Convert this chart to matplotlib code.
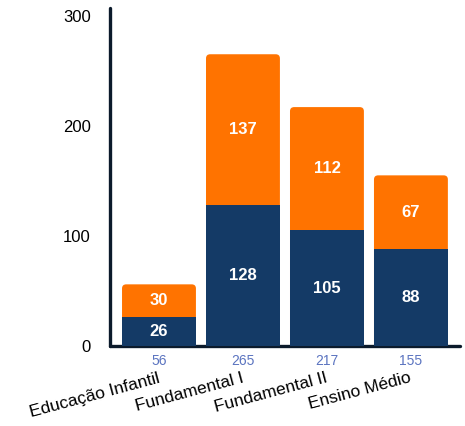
import matplotlib

matplotlib.use("Agg")
import matplotlib.pyplot as plt
import numpy as np
from matplotlib.patches import FancyBboxPatch

plt.rcParams["font.family"] = ["Liberation Sans", "DejaVu Sans"]

categories = ["Educação Infantil", "Fundamental I", "Fundamental II", "Ensino Médio"]
lower = [26, 128, 105, 88]
upper = [30, 137, 112, 67]
totals = [56, 265, 217, 155]
yticks = [0, 100, 200, 300]

navy = "#143a66"
orange = "#ff7300"
spine_color = "#0b1a2b"

fig = plt.figure(figsize=(4.65, 4.26), dpi=100)
ax = fig.add_axes([0.2366, 0.1878, 0.7524, 0.7934])

x = np.arange(len(categories))
width = 0.88
lower = np.array(lower)
upper = np.array(upper)

# orange full-height box with rounded top, navy drawn over its lower part
for xi, lo, up in zip(x, lower, upper):
    box = FancyBboxPatch(
        (xi - width / 2, 0), width, lo + up,
        boxstyle="round,pad=0,rounding_size=0.05",
        mutation_aspect=75, facecolor=orange, edgecolor="none", zorder=2,
    )
    ax.add_patch(box)
ax.bar(x, lower, width=width, color=navy, zorder=3)

for xi, lo, up in zip(x, lower, upper):
    ax.text(xi, lo / 2, str(lo), ha="center", va="center", color="white",
            fontsize=12, fontweight="bold", zorder=4)
    ax.text(xi, lo + up / 2, str(up), ha="center", va="center", color="white",
            fontsize=12, fontweight="bold", zorder=4)

# totals under the axis
for xi, t in zip(x, totals):
    ax.annotate(str(t), xy=(xi, 0), xycoords=("data", "axes fraction"),
                xytext=(0, -11), textcoords="offset points",
                ha="center", va="center", color="#5b74c0", fontsize=10,
                annotation_clip=False)

# rotated category labels
for xi, name in zip(x, categories):
    ax.annotate(name, xy=(xi, 0), xycoords=("data", "axes fraction"),
                xytext=(1, -26), textcoords="offset points",
                ha="right", va="baseline", rotation=15, rotation_mode="anchor",
                fontsize=12.5, color="black", annotation_clip=False)

ax.set_xlim(-0.583, 3.583)
ax.set_ylim(0, 307)
ax.set_yticks(yticks)
ax.set_xticks([])
ax.tick_params(axis="both", length=0)
ax.tick_params(axis="y", pad=14, labelsize=12)

for side in ["top", "right"]:
    ax.spines[side].set_visible(False)
for side in ["left", "bottom"]:
    ax.spines[side].set_color(spine_color)
    ax.spines[side].set_linewidth(2.4)
    ax.spines[side].set_capstyle("round")

fig.savefig("out.png", dpi=100)
